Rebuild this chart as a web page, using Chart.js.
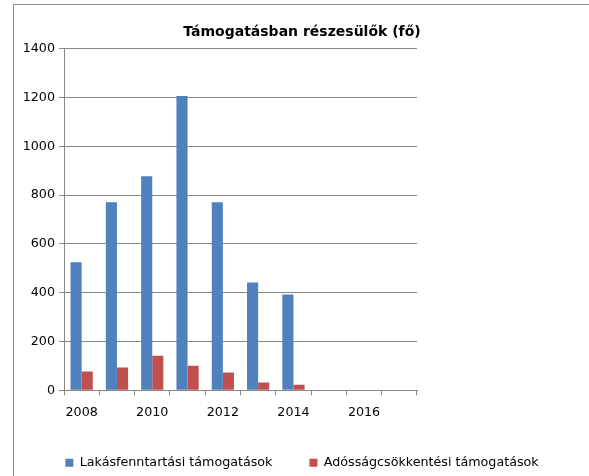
<!DOCTYPE html>
<html>
<head>
<meta charset="utf-8">
<script src="https://cdn.jsdelivr.net/npm/chart.js@4/dist/chart.umd.min.js"></script>
<style>
  html, body { margin: 0; padding: 0; background: #fff; }
  #wrap { width: 589px; height: 476px; }
</style>
</head>
<body>
<div id="wrap"><canvas id="chart"></canvas></div>
<script>
// years on the x axis, every second one gets a label
let years = ["2008", "2009", "2010", "2011", "2012", "2013", "2014", "2015", "2016", "2017"];
let lakasfenntartasi = [525, 771, 878, 1206, 771, 442, 393, null, null, null];
let adossagcsokkentesi = [77, 93, 142, 101, 73, 32, 23, null, null, null];
let yTicks = [0, 200, 400, 600, 800, 1000, 1200, 1400];

let gridColor = "#888888";
let fontFamily = "'DejaVu Sans', sans-serif";

// thin frame around the whole chart (its right and bottom edges are cut off)
let framePlugin = {
  id: "frame",
  beforeDraw(chart) {
    let ctx = chart.ctx;
    ctx.save();
    ctx.strokeStyle = "#8c8c8c";
    ctx.lineWidth = 1;
    ctx.beginPath();
    ctx.moveTo(13.5, chart.height);
    ctx.lineTo(13.5, 4.5);
    ctx.lineTo(chart.width, 4.5);
    ctx.stroke();
    ctx.restore();
  }
};

let chartEl = document.getElementById("chart");

new Chart(chartEl, {
  type: "bar",
  data: {
    labels: years,
    datasets: [
      {
        label: "Lakásfenntartási támogatások",
        data: lakasfenntartasi,
        backgroundColor: "#4F81BD",
        borderWidth: 0,
        categoryPercentage: 0.63,
        barPercentage: 1,
      },
      {
        label: "Adósságcsökkentési támogatások",
        data: adossagcsokkentesi,
        backgroundColor: "#C0504D",
        borderWidth: 0,
        categoryPercentage: 0.63,
        barPercentage: 1,
      },
    ],
  },
  options: {
    responsive: true,
    maintainAspectRatio: false,
    animation: false,
    devicePixelRatio: 1,
    layout: { padding: { left: 15, right: 0, top: 0, bottom: -3 } },
    plugins: {
      tooltip: { enabled: false },
      title: {
        display: true,
        text: "Támogatásban részesülők (fő)",
        color: "#000",
        font: { family: fontFamily, size: 14, weight: "bold" },
        padding: { top: 24, bottom: 8 },
      },
      legend: {
        display: true,
        position: "bottom",
        labels: {
          boxWidth: 8,
          boxHeight: 8,
          padding: 37,
          color: "#000",
          font: { family: fontFamily, size: 12.7 },
        },
      },
    },
    scales: {
      x: {
        offset: true,
        afterFit: function (scale) {
          scale.height = 29;
        },
        grid: {
          display: true,
          offset: true,
          drawOnChartArea: false,
          drawTicks: true,
          tickLength: 5,
          color: gridColor,
        },
        border: { display: true, color: gridColor, width: 1 },
        ticks: {
          autoSkip: false,
          maxRotation: 0,
          padding: 10,
          color: "#000",
          font: { family: fontFamily, size: 12.7 },
          callback: function (value, index) {
            return index % 2 === 0 ? years[index] : "";
          },
        },
      },
      y: {
        min: yTicks[0],
        max: yTicks[yTicks.length - 1],
        afterBuildTicks: function (scale) {
          scale.ticks = yTicks.map((v) => ({ value: v }));
        },
        afterFit: function (scale) {
          scale.width = 49;
        },
        grid: {
          color: gridColor,
          drawTicks: true,
          tickLength: 5,
        },
        border: { display: true, color: gridColor, width: 1 },
        ticks: {
          padding: 4,
          color: "#000",
          font: { family: fontFamily, size: 12.7 },
          callback: function (value) {
            return String(value);
          },
        },
      },
      // empty right axis only keeps the plot area narrow like the original
      spacer: {
        type: "linear",
        position: "right",
        display: true,
        grid: { display: false, drawTicks: false },
        border: { display: false },
        ticks: { display: false },
        afterFit: function (scale) {
          scale.width = 172;
        },
      },
    },
  },
  plugins: [framePlugin],
});
</script>
</body>
</html>
